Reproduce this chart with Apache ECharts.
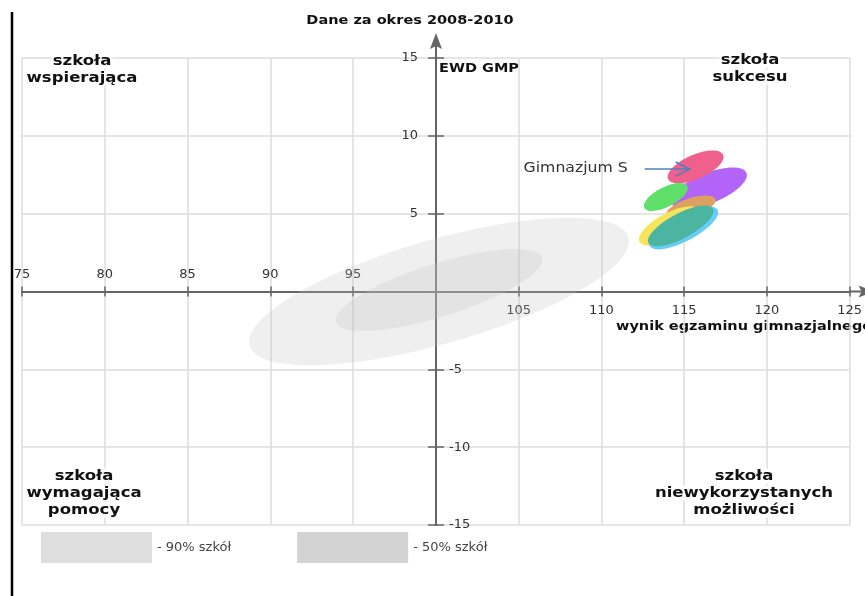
<!DOCTYPE html>
<html>
<head>
<meta charset="utf-8">
<script src="https://cdn.jsdelivr.net/npm/echarts@6/dist/echarts.min.js"></script>
<style>
  html, body { margin: 0; padding: 0; background: #fff; }
  #chart { width: 865px; height: 596px; }
</style>
</head>
<body>
<div id="chart"></div>
<script>
// axis ranges, crossing point and tick labels
const xMin = 75, xMax = 125, xStep = 5, xCross = 100;
const yMin = -15, yMax = 15, yStep = 5, yCross = 0;
const xLabelsAbove = [75, 80, 85, 90, 95];
const xLabelsBelow = [105, 110, 115, 120, 125];
const yLabelsLeft = [5, 10, 15];
const yLabelsRight = [-5, -10, -15];

// reference areas: centre, end of major half-axis (offset), minor/major ratio
const areaNames = ['- 90% szkół', '- 50% szkół'];
const areaCx = [100.2, 100.2];
const areaCy = [0.0, 0.1];
const areaSpanX = [11.44, 6.22];
const areaSpanY = [3.49, 2.07];
const areaRatio = [0.264, 0.245];

// school ellipses, in drawing order
const schoolNames = ['szkoła A', 'Gimnazjum S', 'szkoła B', 'szkoła C', 'szkoła D', 'szkoła E', 'szkoła F'];
const schoolCx = [116.5, 115.7, 113.9, 115.4, 114.13, 114.98, 114.8];
const schoolCy = [6.65, 8.0, 6.07, 5.4, 4.21, 4.08, 4.21];
const schoolSpanX = [2.27, 1.66, 1.30, 1.49, 1.81, 2.05, 1.95];
const schoolSpanY = [0.97, 0.78, 0.70, 0.52, 1.03, 1.16, 1.10];
const schoolRatio = [0.37, 0.405, 0.41, 0.35, 0.38, 0.34, 0.34];

const schoolColors = ['#b264f8', '#f0608c', '#5ee068', '#dea05e', '#f6e45a', '#66cdf4', '#4cb5a2'];
const areaFill = ['rgba(190,190,190,0.25)', 'rgba(190,190,190,0.25)'];
const legendColors = ['#dedede', '#d3d3d3'];

const FONT = 'DejaVu Sans';
const gridBox = { left: 22, top: 58, width: 828, height: 467 };
// move the axes so they cross at (xCross, yCross)
const xShift = -gridBox.height * (yCross - yMin) / (yMax - yMin);
const yShift = -gridBox.width * (xCross - xMin) / (xMax - xMin);
const arrow = 'path://M6,0 L12,16 L6,13 L0,16 Z M5,12 L7,12 L7,25 L5,25 Z';

function ellipse(api, color) {
  const c = api.coord([api.value(0), api.value(1)]);
  const e = api.coord([api.value(0) + api.value(2), api.value(1) + api.value(3)]);
  const dx = e[0] - c[0], dy = e[1] - c[1];
  const a = Math.sqrt(dx * dx + dy * dy);
  return {
    type: 'ellipse',
    x: c[0], y: c[1],
    rotation: Math.atan2(-dy, dx),
    shape: { cx: 0, cy: 0, rx: a, ry: a * api.value(4) },
    style: { fill: color }
  };
}

function rows(cx, cy, sx, sy, r) {
  return cx.map((v, i) => [v, cy[i], sx[i], sy[i], r[i]]);
}

const areaSeries = areaNames.map((name, i) => ({
  name: name,
  type: 'custom',
  z: 1,
  data: [[areaCx[i], areaCy[i], areaSpanX[i], areaSpanY[i], areaRatio[i]]],
  renderItem: (params, api) => ellipse(api, areaFill[i])
}));

const schoolSeries = {
  name: 'szkoły',
  type: 'custom',
  z: 3,
  data: rows(schoolCx, schoolCy, schoolSpanX, schoolSpanY, schoolRatio),
  renderItem: function (params, api) {
    const el = ellipse(api, schoolColors[params.dataIndex]);
    const name = schoolNames[params.dataIndex];
    if (name !== 'Gimnazjum S') return el;
    // label + arrow pointing at this school
    const c = api.coord([api.value(0), api.value(1)]);
    const tipX = c[0] - 6, tipY = c[1] + 2;
    return {
      type: 'group',
      children: [
        el,
        { type: 'line', shape: { x1: tipX - 45, y1: tipY, x2: tipX, y2: tipY },
          style: { stroke: '#4f81bd', lineWidth: 1.5 } },
        { type: 'polyline', shape: { points: [[tipX - 14, tipY - 7], [tipX, tipY], [tipX - 14, tipY + 7]] },
          style: { stroke: '#4f81bd', lineWidth: 1.5, fill: null } },
        { type: 'text', x: tipX - 62, y: tipY - 1, scaleX: 1.12,
          style: { text: name, fontFamily: FONT, fontSize: 14, fill: '#333',
                   align: 'right', verticalAlign: 'middle' } }
      ]
    };
  }
};

// quadrant captions: one text per line, each on a white box
function quadText(x, y, lines) {
  return lines.map((t, i) => ({
    type: 'text', x: x, y: y + i * 17, scaleX: 1.14, z: 10,
    style: { text: t, fontFamily: FONT, fontSize: 14.5, fontWeight: 'bold', fill: '#111',
             align: 'center', verticalAlign: 'middle', backgroundColor: '#fff', padding: [0, 1] }
  }));
}

function boldText(x, y, text, align) {
  return {
    type: 'text', x: x, y: y, scaleX: 1.16,
    style: { text: text, fontFamily: FONT, fontSize: 12.5, fontWeight: 'bold', fill: '#111',
             align: align, verticalAlign: 'middle' }
  };
}

const chart = echarts.init(document.getElementById('chart'));
chart.setOption({
  animation: false,
  backgroundColor: '#fff',
  grid: gridBox,
  legend: {
    left: 41, top: 532, padding: 0, icon: 'rect', itemWidth: 111, itemHeight: 31, itemGap: 66,
    selectedMode: false,
    data: areaNames.map((n, i) => ({ name: n, itemStyle: { color: legendColors[i] } })),
    textStyle: { fontFamily: FONT, fontSize: 13, color: '#444' }
  },
  xAxis: [
    {
      type: 'value', min: xMin, max: xMax, interval: xStep, position: 'bottom', offset: xShift,
      axisLine: { onZero: false, lineStyle: { color: '#666', width: 2 },
                  symbol: ['none', arrow], symbolSize: [12, 25], symbolOffset: [0, 12.5] },
      axisTick: { length: 5, lineStyle: { color: '#666', width: 1.5 } },
      axisLabel: { margin: 13, fontFamily: FONT, fontSize: 13, color: '#333',
                   formatter: v => xLabelsBelow.includes(v) ? String(v) : '' },
      splitLine: { show: true, lineStyle: { color: '#dcdcdc', width: 1.5 } }
    },
    {
      type: 'value', min: xMin, max: xMax, interval: xStep, position: 'bottom', offset: xShift,
      axisLine: { show: false, onZero: false },
      axisTick: { inside: true, length: 5, lineStyle: { color: '#666', width: 1.5 } },
      axisLabel: { inside: true, margin: 10, fontFamily: FONT, fontSize: 13, color: '#333',
                   formatter: v => xLabelsAbove.includes(v) ? String(v) : '' },
      splitLine: { show: false }
    }
  ],
  yAxis: [
    {
      type: 'value', min: yMin, max: yMax, interval: yStep, position: 'left', offset: yShift,
      axisLine: { onZero: false, lineStyle: { color: '#666', width: 2 },
                  symbol: ['none', arrow], symbolSize: [12, 25], symbolOffset: [0, 12.5] },
      axisTick: { length: 8, lineStyle: { color: '#666', width: 1.5 } },
      axisLabel: { margin: 18, fontFamily: FONT, fontSize: 13, color: '#333',
                   formatter: v => yLabelsLeft.includes(v) ? String(v) : '' },
      splitLine: { show: true, lineStyle: { color: '#dcdcdc', width: 1.5 } }
    },
    {
      type: 'value', min: yMin, max: yMax, interval: yStep, position: 'left', offset: yShift,
      axisLine: { show: false, onZero: false },
      axisTick: { inside: true, length: 8, lineStyle: { color: '#666', width: 1.5 } },
      axisLabel: { inside: true, margin: 13, fontFamily: FONT, fontSize: 13, color: '#333',
                   formatter: v => yLabelsRight.includes(v) ? String(v) : '' },
      splitLine: { show: false }
    }
  ],
  graphic: [
    { type: 'line', shape: { x1: 12, y1: 12, x2: 12, y2: 596 }, style: { stroke: '#000', lineWidth: 2.5 } },
    boldText(410, 21, 'Dane za okres 2008-2010', 'center'),
    boldText(439, 69, 'EWD GMP', 'left'),
    boldText(616, 327, 'wynik egzaminu gimnazjalnego', 'left')
  ].concat(
    quadText(82, 61, ['szkoła', 'wspierająca']),
    quadText(750, 60, ['szkoła', 'sukcesu']),
    quadText(84, 476, ['szkoła', 'wymagająca', 'pomocy']),
    quadText(744, 476, ['szkoła', 'niewykorzystanych', 'możliwości'])
  ),
  series: areaSeries.concat([schoolSeries])
});
</script>
</body>
</html>
